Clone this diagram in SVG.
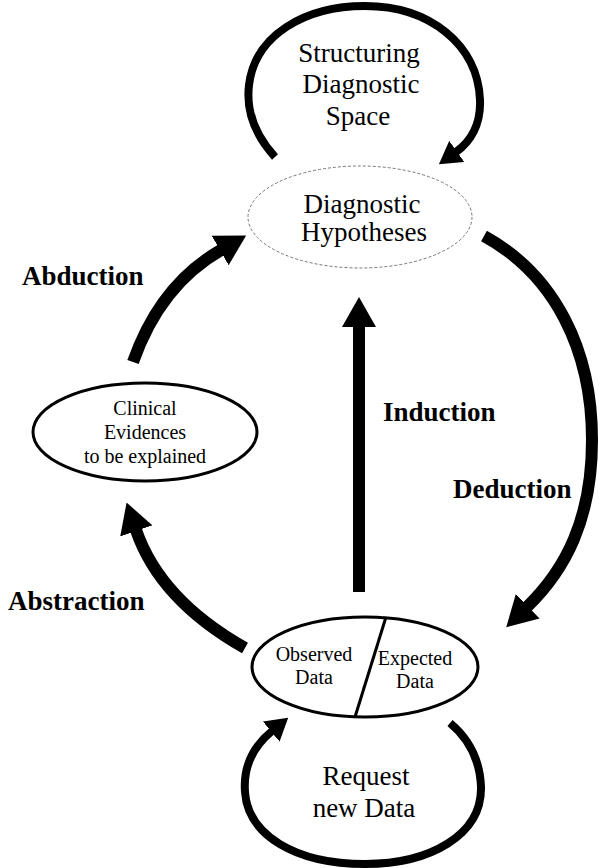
<svg xmlns="http://www.w3.org/2000/svg" width="603" height="868" viewBox="0 0 603 868">
  <style>
    .lbl { font-family: "Liberation Serif", "Times New Roman", serif; fill: #000; text-anchor: middle; }
    .big { font-size: 27px; }
    .mid { font-size: 20px; }
    .bold { font-family: "Liberation Serif", "Times New Roman", serif; font-weight: bold; font-size: 27px; fill: #000; }
    .thick { fill: none; stroke: #000; stroke-width: 12; }
    .loop { fill: none; stroke: #000; stroke-width: 8; }
    .node { fill: #fff; stroke: #000; stroke-width: 3; }
  </style>
  <defs>
    <marker id="headBig" markerUnits="userSpaceOnUse" markerWidth="30" markerHeight="34" refX="1" refY="17" orient="auto" viewBox="0 0 30 34">
      <polygon points="0,0 30,17 0,34" fill="#000"/>
    </marker>
    <marker id="headSmall" markerUnits="userSpaceOnUse" markerWidth="22" markerHeight="26" refX="1" refY="13" orient="auto" viewBox="0 0 22 26">
      <polygon points="0,0 22,13 0,26" fill="#000"/>
    </marker>
  </defs>

  <rect width="603" height="868" fill="#fff"/>

  <g id="connectors">
    <!-- self loop over the hypotheses -->
    <path class="loop" d="M275,157 C255,135 246,110 249,85 C255,35 305,6 365,6 C430,6 478,45 480,100 C481,125 470,142 456,152" marker-end="url(#headSmall)"/>
    <!-- self loop under the data node -->
    <path class="loop" d="M450,723 C468,738 480,760 481,787 C482,835 430,864 365,864 C295,864 248,835 245,792 C243,765 255,745 272,731" marker-end="url(#headSmall)"/>
    <!-- induction -->
    <path class="thick" d="M359,592 L359,326" marker-end="url(#headBig)"/>
    <!-- deduction -->
    <path class="thick" d="M484,236 C555,275 592,350 592,440 C592,520 565,570 527,607" marker-end="url(#headBig)"/>
    <!-- abduction -->
    <path class="thick" d="M133,362 Q160,285 221,250" marker-end="url(#headBig)"/>
    <!-- abstraction -->
    <path class="thick" d="M245,648 Q160,600 136,530" marker-end="url(#headBig)"/>
  </g>

  <g id="structuring">
    <text class="lbl big" x="359" y="62">Structuring</text>
    <text class="lbl big" x="361" y="93">Diagnostic</text>
    <text class="lbl big" x="358" y="125">Space</text>
  </g>

  <g id="hypotheses">
    <ellipse cx="360" cy="217" rx="112" ry="51" fill="#fff" stroke="#777" stroke-width="1" stroke-dasharray="3,2"/>
    <text class="lbl big" x="362" y="213">Diagnostic</text>
    <text class="lbl big" x="364" y="241">Hypotheses</text>
  </g>

  <g id="evidences">
    <ellipse class="node" cx="145" cy="432" rx="112" ry="49"/>
    <text class="lbl mid" x="145" y="415">Clinical</text>
    <text class="lbl mid" x="145" y="439">Evidences</text>
    <text class="lbl mid" x="145" y="463">to be explained</text>
  </g>

  <g id="data">
    <ellipse class="node" cx="365" cy="667" rx="113" ry="50"/>
    <line x1="386" y1="617" x2="355" y2="717" stroke="#000" stroke-width="3"/>
    <text class="lbl mid" x="314" y="661">Observed</text>
    <text class="lbl mid" x="314" y="684">Data</text>
    <text class="lbl mid" x="415" y="665">Expected</text>
    <text class="lbl mid" x="415" y="688">Data</text>
  </g>

  <g id="request">
    <text class="lbl big" x="366" y="785">Request</text>
    <text class="lbl big" x="364" y="817">new Data</text>
  </g>

  <g id="labels">
    <text class="bold" x="22" y="285">Abduction</text>
    <text class="bold" x="383" y="421">Induction</text>
    <text class="bold" x="453" y="498">Deduction</text>
    <text class="bold" x="8" y="610">Abstraction</text>
  </g>
</svg>
